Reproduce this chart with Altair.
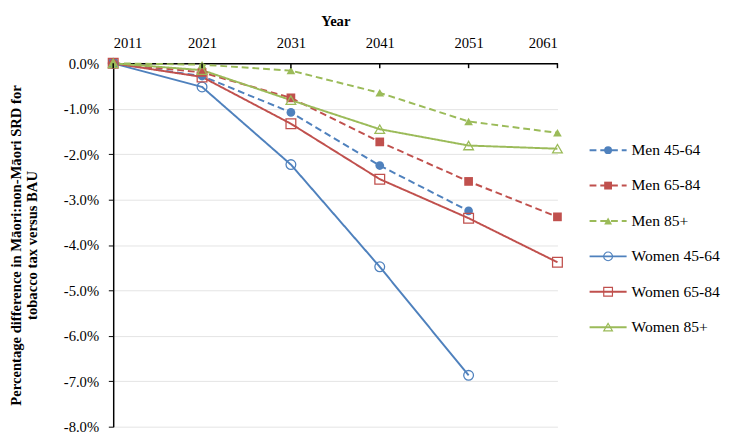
import altair as alt
import pandas as pd

years = [2011, 2021, 2031, 2041, 2051, 2061]
series = ["Men 45-64", "Men 65-84", "Men 85+", "Women 45-64", "Women 65-84", "Women 85+"]
# percentage differences (in %)
men_45_64 = [0.0, -0.28, -1.08, -2.25, -3.25, None]
men_65_84 = [0.0, -0.20, -0.76, -1.73, -2.60, -3.38]
men_85 = [0.0, -0.03, -0.16, -0.65, -1.28, -1.53]
women_45_64 = [0.0, -0.52, -2.23, -4.48, -6.87, None]
women_65_84 = [0.0, -0.30, -1.33, -2.55, -3.41, -4.38]
women_85 = [0.0, -0.15, -0.81, -1.45, -1.81, -1.88]
y_ticks = [0, -1, -2, -3, -4, -5, -6, -7, -8]

FONT = "Liberation Serif, Times New Roman, serif"
colors = ["#4F81BD", "#C0504D", "#9BBB59", "#4F81BD", "#C0504D", "#9BBB59"]
shapes = ["circle", "square", "triangle-up", "circle", "square", "triangle-up"]
dashes = [[7, 4], [7, 4], [7, 4], [1, 0], [1, 0], [1, 0]]

all_vals = [men_45_64, men_65_84, men_85, women_45_64, women_65_84, women_85]
rows = []
for s, vals in zip(series, all_vals):
    for yr, v in zip(years, vals):
        if v is not None:
            rows.append({"year": yr, "value": v / 100.0, "series": s,
                         "group": "Men" if s.startswith("Men") else "Women"})
df = pd.DataFrame(rows)
ticks_df = pd.DataFrame({"year": years})
legend_df = pd.DataFrame({"series": series,
                          "group": ["Men" if s.startswith("Men") else "Women" for s in series]})

color = alt.Color("series:N", scale=alt.Scale(domain=series, range=colors), legend=None)
shape = alt.Shape("series:N", scale=alt.Scale(domain=series, range=shapes), legend=None)
dash = alt.StrokeDash("series:N", scale=alt.Scale(domain=series, range=dashes), legend=None)

x = alt.X("year:Q", scale=alt.Scale(domain=[2011, 2061], nice=False, zero=False),
          axis=alt.Axis(orient="top", values=years, format="d", title="Year",
                        ticks=False, grid=False, domainColor="black", domainWidth=1.5,
                        labelFont=FONT, labelFontSize=15, labelColor="black", labelPadding=13,
                        titleFont=FONT, titleFontSize=15, titleFontWeight="bold",
                        titleColor="black", titlePadding=8))
y = alt.Y("value:Q", scale=alt.Scale(domain=[-0.08, 0], nice=False),
          axis=alt.Axis(values=[t / 100.0 for t in y_ticks],
                        labelExpr="replace(format(datum.value, '.1%'), '\u2212', '-')",
                        title=["Percentage difference in  Māori:non-Māori SRD for",
                               "tobacco tax versus BAU"],
                        titleFont=FONT, titleFontSize=15, titleFontWeight="bold",
                        titleColor="black", titlePadding=24, titleLineHeight=17,
                        labelFont=FONT, labelFontSize=15, labelColor="black", labelPadding=10,
                        tickSize=5, tickColor="black", domainColor="black", domainWidth=1.5,
                        grid=True, gridColor="#E3E3E3", gridWidth=1))

base = alt.Chart(df)
lines = base.mark_line(strokeWidth=2).encode(x=x, y=y, color=color, strokeDash=dash)
pts_m = base.transform_filter(alt.datum.group == "Men").mark_point(
    filled=True, size=80, opacity=1).encode(x=x, y=y, color=color, shape=shape)
pts_w = base.transform_filter(alt.datum.group == "Women").mark_point(
    filled=False, size=100, strokeWidth=1.3, opacity=1).encode(x=x, y=y, color=color, shape=shape)
xticks = alt.Chart(ticks_df).mark_rule(color="black", strokeWidth=1.5).encode(
    x=alt.X("year:Q"), y=alt.value(0), y2=alt.value(5))

main = alt.layer(lines, pts_m, pts_w, xticks)

ly = alt.Y("series:N", sort=series,
           scale=alt.Scale(domain=series, range=[71, 289], padding=0), axis=None)
lbase = alt.Chart(legend_df)
leg_rule = lbase.mark_rule(strokeWidth=2).encode(
    x=alt.value(489), x2=alt.value(527), y=ly, color=color, strokeDash=dash)
leg_pm = lbase.transform_filter(alt.datum.group == "Men").mark_point(
    filled=True, size=65, opacity=1).encode(x=alt.value(508), y=ly, color=color, shape=shape)
leg_pw = lbase.transform_filter(alt.datum.group == "Women").mark_point(
    filled=False, size=80, strokeWidth=1.2, opacity=1).encode(x=alt.value(508), y=ly, color=color, shape=shape)
leg_text = lbase.mark_text(align="left", baseline="middle", fontSize=16, color="black",
                           font=FONT).encode(
    x=alt.value(532), y=ly, text="series:N")
legend = alt.layer(leg_rule, leg_pm, leg_pw, leg_text)

chart = alt.layer(main, legend).resolve_scale(y="independent").properties(
    width=456, height=373,
    padding={"left": 0, "top": 0, "right": 5, "bottom": 5}
).configure(font=FONT, view=alt.ViewConfig(stroke=None))

chart.save("out.html", embed_options={"renderer": "svg", "actions": False})
